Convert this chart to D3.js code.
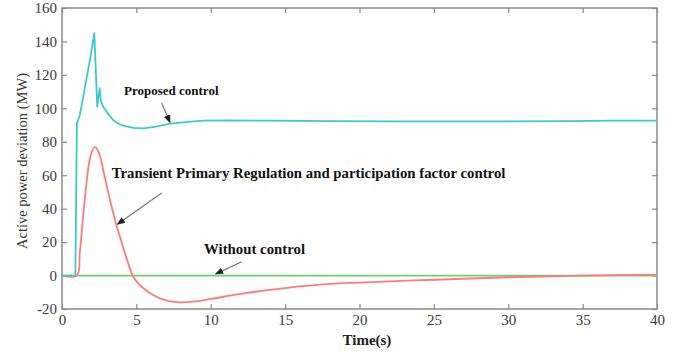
<!DOCTYPE html>
<html>
<head>
<meta charset="utf-8">
<script src="https://cdn.jsdelivr.net/npm/d3@7"></script>
<style>
body { margin: 0; background: #fff; }
text { font-family: "Liberation Serif", "Times New Roman", serif; }
</style>
</head>
<body>
<div id="canvas"></div>
<script>
const xTicks = [0, 5, 10, 15, 20, 25, 30, 35, 40];
const yTicks = [-20, 0, 20, 40, 60, 80, 100, 120, 140, 160];

const proposedT = [0, 0.9, 1.0, 1.2, 1.55, 1.9, 2.17, 2.37, 2.53, 2.62, 2.8, 3.0, 3.2, 3.45, 3.7, 4.0, 4.4, 4.8, 5.5, 6.3, 7.3, 8.3, 9.5, 11, 14, 18, 22, 26, 30, 34, 37, 40];
const proposedV = [0, 0, 91, 96, 113, 130, 145, 101, 112, 104, 100.5, 98, 95.5, 93, 91.3, 90, 89, 88.3, 88, 89, 90.8, 91.8, 92.6, 92.8, 92.6, 92.3, 92.2, 92.2, 92.2, 92.3, 92.7, 92.7];

const transientT = [0, 1.0, 1.2, 1.48, 1.8, 2.0, 2.22, 2.5, 2.8, 3.1, 3.34, 3.63, 3.97, 4.35, 4.75, 5.1, 5.47, 6.0, 6.6, 7.2, 7.9, 8.8, 10, 12, 15, 18, 20, 25, 30, 35, 40];
const transientV = [0, 0, 14, 41, 66, 74, 77, 73, 62, 50, 41, 31, 21, 10, 0, -4.5, -7.6, -11, -13.6, -15.3, -16, -15.6, -14, -11, -7.5, -5, -4.2, -2.5, -1, 0, 0.5];

const withoutT = [0, 40];
const withoutV = [0, 0];

const width = 679, height = 354;
const margin = { top: 8, left: 62, bottom: 45, right: 22 };
const iwidth = width - margin.left - margin.right;
const iheight = height - margin.top - margin.bottom;
const serif = "'Liberation Serif', 'Times New Roman', serif";

const svg = d3.select("#canvas").append("svg")
    .attr("width", width).attr("height", height);

const g = svg.append("g").attr("transform", `translate(${margin.left},${margin.top})`);

const x = d3.scaleLinear().domain([0, 40]).range([0, iwidth]);
const y = d3.scaleLinear().domain([-20, 160]).range([iheight, 0]);

const axisColor = "#8a8a8a";

function styleAxis(sel, showLabels) {
    sel.select(".domain").remove();
    sel.selectAll(".tick line").attr("stroke", axisColor).attr("stroke-width", 1.2);
    sel.selectAll(".tick text")
        .attr("fill", "#3a3a3a")
        .style("font-family", serif)
        .style("font-size", "15px")
        .style("display", showLabels ? null : "none");
}

g.append("g").attr("transform", `translate(0,${iheight})`)
    .call(d3.axisBottom(x).tickValues(xTicks).tickSize(-5).tickPadding(5).tickFormat(d => String(d)))
    .call(s => styleAxis(s, true));
g.append("g")
    .call(d3.axisTop(x).tickValues(xTicks).tickSize(-5).tickFormat(""))
    .call(s => styleAxis(s, false));
g.append("g")
    .call(d3.axisLeft(y).tickValues(yTicks).tickSize(-5).tickPadding(5).tickFormat(d => String(d)))
    .call(s => styleAxis(s, true));
g.append("g").attr("transform", `translate(${iwidth},0)`)
    .call(d3.axisRight(y).tickValues(yTicks).tickSize(-5).tickFormat(""))
    .call(s => styleAxis(s, false));

g.append("rect")
    .attr("width", iwidth).attr("height", iheight)
    .attr("fill", "none").attr("stroke", axisColor).attr("stroke-width", 1.5);

const series = [
    { t: withoutT, v: withoutV, color: "#6fcf6f", curve: d3.curveLinear },
    { t: transientT, v: transientV, color: "#ff7b7b", curve: d3.curveCatmullRom.alpha(0.5) },
    { t: proposedT, v: proposedV, color: "#3ec9c9", curve: d3.curveLinear }
];
series.forEach(s => {
    const line = d3.line().x(d => x(d[0])).y(d => y(d[1])).curve(s.curve);
    g.append("path")
        .datum(s.t.map((t, i) => [t, s.v[i]]))
        .attr("fill", "none")
        .attr("stroke", s.color)
        .attr("stroke-width", 1.8)
        .attr("stroke-linejoin", "round")
        .attr("d", line);
});

// annotations
svg.append("defs").append("marker")
    .attr("id", "arrow").attr("viewBox", "0 0 10 10")
    .attr("refX", 9).attr("refY", 5)
    .attr("markerWidth", 7).attr("markerHeight", 7)
    .attr("orient", "auto")
    .append("path").attr("d", "M0,1 L10,5 L0,9 Z").attr("fill", "#222");

const notes = [
    { text: "Proposed control", tx: 4.17, ty: 110.7, size: 13, from: [6.7, 103.2], to: [7.26, 91.5] },
    { text: "Transient Primary Regulation and participation factor control", tx: 3.34, ty: 61.3, size: 14.8, from: [6.7, 49.3], to: [3.72, 30.7] },
    { text: "Without control", tx: 9.55, ty: 15.7, size: 14.8, from: [12.08, 8.3], to: [10.33, 1] }
];
notes.forEach(n => {
    g.append("text")
        .attr("x", x(n.tx)).attr("y", y(n.ty))
        .attr("dy", "0.35em")
        .attr("font-weight", "bold")
        .attr("fill", "#111")
        .style("font-size", n.size + "px")
        .text(n.text);
    g.append("line")
        .attr("x1", x(n.from[0])).attr("y1", y(n.from[1]))
        .attr("x2", x(n.to[0])).attr("y2", y(n.to[1]))
        .attr("stroke", "#777").attr("stroke-width", 1.2)
        .attr("marker-end", "url(#arrow)");
});

svg.append("text")
    .attr("x", margin.left + x(20.5)).attr("y", 340)
    .attr("dy", "0.35em")
    .attr("text-anchor", "middle")
    .attr("font-weight", "bold")
    .attr("fill", "#222")
    .style("font-size", "15px")
    .text("Time(s)");

svg.append("text")
    .attr("transform", "translate(22,161) rotate(-90)")
    .attr("dy", "0.35em")
    .attr("text-anchor", "middle")
    .attr("fill", "#333")
    .style("font-size", "14.5px")
    .text("Active power deviation (MW)");
</script>
</body>
</html>
